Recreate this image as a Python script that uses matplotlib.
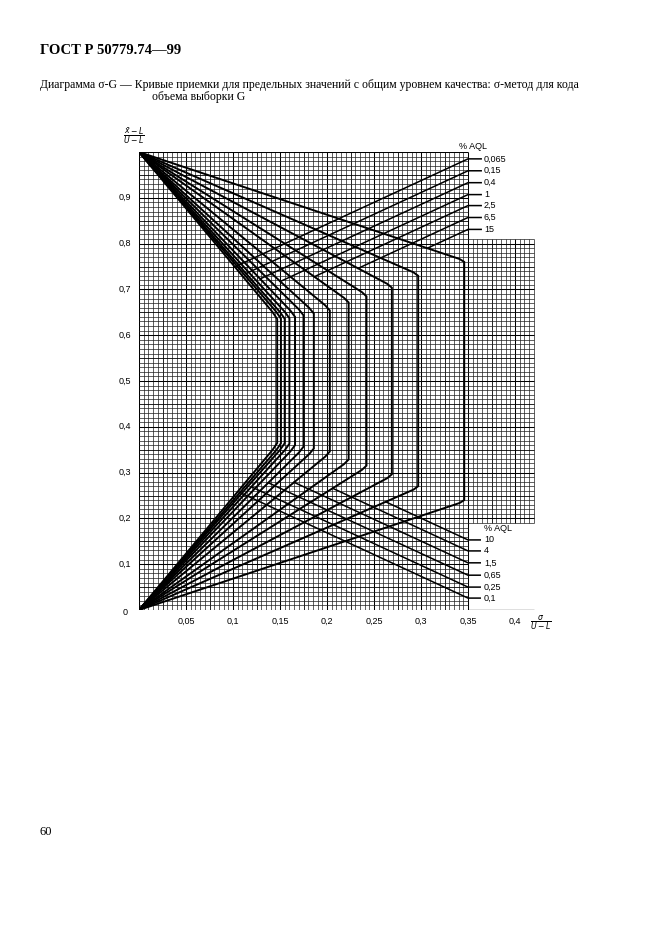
import numpy as np
import matplotlib
matplotlib.use('Agg')
import matplotlib.pyplot as plt

# AQL values, from the innermost curve to the outermost one
aql = ['0,065', '0,1', '0,15', '0,25', '0,4', '0,65', '1', '1,5', '2,5', '4', '6,5', '10', '15']
# acceptance constant (slope of the straight parts) and maximum sigma (vertical part)
k_value = [2.46, 2.39, 2.33, 2.25, 2.15, 2.02, 1.88, 1.69, 1.46, 1.29, 1.09, 0.90, 0.685]
msd = [0.147, 0.151, 0.155, 0.160, 0.166, 0.175, 0.186, 0.203, 0.223, 0.242, 0.269, 0.297, 0.346]

upper_labels = ['0,065', '0,15', '0,4', '1', '2,5', '6,5', '15']
lower_labels = ['10', '4', '1,5', '0,65', '0,25', '0,1']

x_ticks = [0.05, 0.1, 0.15, 0.2, 0.25, 0.3, 0.35, 0.4]
x_tick_labels = ['0,05', '0,1', '0,15', '0,2', '0,25', '0,3', '0,35', '0,4']
y_ticks = [0.1, 0.2, 0.3, 0.4, 0.5, 0.6, 0.7, 0.8, 0.9]
y_tick_labels = ['0,1', '0,2', '0,3', '0,4', '0,5', '0,6', '0,7', '0,8', '0,9']

# layout of the label blocks
upper_label_y = [0.985, 0.959, 0.933, 0.907, 0.883, 0.857, 0.831]
lower_label_y = [0.153, 0.129, 0.103, 0.076, 0.050, 0.026]
leader_slope = 0.95
chamfer = 0.005

W, H = 661, 936
fig = plt.figure(figsize=(W / 100, H / 100), dpi=100)
fig.patch.set_facecolor('white')

# axes: x=0 at px 139, 940 px per unit; y=0 at px 610, y=1 at px 152
ax = fig.add_axes([139 / W, (H - 610) / H, 0.43 * 940 / W, 458 / H])
ax.set_xlim(0, 0.43)
ax.set_ylim(0, 1)
ax.axis('off')

# graph paper: main block up to 0.35, extra block to 0.42 between 0.19 and 0.81
grid_col = '0.12'
for i in range(0, 85):
    x = i * 0.005
    lw = 0.75 if i % 10 == 0 else (0.6 if i % 5 == 0 else 0.5)
    c = 'black' if i % 5 == 0 else grid_col
    if i <= 70:
        ax.vlines(x, 0, 1, color=c, lw=lw, zorder=1)
    else:
        ax.vlines(x, 0.19, 0.81, color=c, lw=lw, zorder=1)
for j in range(0, 101):
    y = j * 0.01
    lw = 0.75 if j % 10 == 0 else (0.6 if j % 5 == 0 else 0.5)
    c = 'black' if j % 5 == 0 else grid_col
    if 19 <= j <= 81:
        ax.hlines(y, 0, 0.42, color=c, lw=lw, zorder=1)
    else:
        ax.hlines(y, 0, 0.35, color=c, lw=lw, zorder=1)
ax.hlines(0, 0.35, 0.42, color='black', lw=0.9, zorder=1)

# acceptance curves
for k, xv in zip(k_value, msd):
    xa = xv - chamfer
    xs = [0, xa, xv, xv, xa, 0]
    ys = [1, 1 - k * xa, 1 - k * xv - 0.003, k * xv + 0.003, k * xa, 0]
    ax.plot(xs, ys, color='black', lw=1.4, solid_joinstyle='miter', zorder=3)

# leaders from the labels to their curves
for lab, yl in zip(upper_labels, upper_label_y):
    i = aql.index(lab)
    k = k_value[i]
    xe = (1 - yl + leader_slope * 0.35) / (k + leader_slope)
    ye = 1 - k * xe
    ax.plot([xe, 0.35, 0.364], [ye, yl, yl], color='black', lw=1.1, zorder=3,
            clip_on=False)
    ax.text(0.367, yl, lab, fontsize=6.5, family='Liberation Sans', va='center',
            ha='left', clip_on=False)
for lab, yl in zip(lower_labels, lower_label_y):
    i = aql.index(lab)
    k = k_value[i]
    xe = (yl + leader_slope * 0.35) / (k + leader_slope)
    ye = k * xe
    ax.plot([xe, 0.35, 0.363], [ye, yl, yl], color='black', lw=1.1, zorder=3,
            clip_on=False)
    ax.text(0.367, yl, lab, fontsize=6.5, family='Liberation Sans', va='center',
            ha='left', clip_on=False)

ax.text(0.340, 1.012, '% AQL', fontsize=6.5, family='Liberation Sans', va='center',
        ha='left', clip_on=False)
ax.text(0.367, 0.179, '% AQL', fontsize=6.5, family='Liberation Sans', va='center',
        ha='left', clip_on=False)

# tick labels
for x, lab in zip(x_ticks, x_tick_labels):
    ax.text(x, -0.024, lab, fontsize=6.5, family='Liberation Sans', va='center',
            ha='center', clip_on=False)
for y, lab in zip(y_ticks, y_tick_labels):
    ax.text(-0.0145, y, lab, fontsize=6.5, family='Liberation Sans', va='center',
            ha='center', clip_on=False)
ax.text(-0.0145, -0.005, '0', fontsize=6.5, family='Liberation Sans', va='center',
        ha='center', clip_on=False)

ax.text(-0.006, 1.035, r'$\frac{\bar{x}-L}{U-L}$', fontsize=8, va='center',
        ha='center', clip_on=False)
ax.text(0.427, -0.028, r'$\frac{\sigma}{U-L}$', fontsize=8, va='center',
        ha='center', clip_on=False)

# page texts
serif = 'Liberation Serif'
fig.text(40 / W, 1 - 50 / H, 'ГОСТ Р 50779.74—99', fontsize=10.5, family=serif,
         weight='bold', va='center', ha='left')
fig.text(40 / W, 1 - 85 / H,
         'Диаграмма σ-G — Кривые приемки для предельных значений с общим уровнем '
         'качества: σ-метод для кода',
         fontsize=8.5, family=serif, va='center', ha='left')
fig.text(152 / W, 1 - 97 / H, 'объема выборки G', fontsize=8.5, family=serif,
         va='center', ha='left')
fig.text(40 / W, 1 - 832 / H, '60', fontsize=9, family=serif, va='center', ha='left')

fig.savefig('out.png', dpi=100)
